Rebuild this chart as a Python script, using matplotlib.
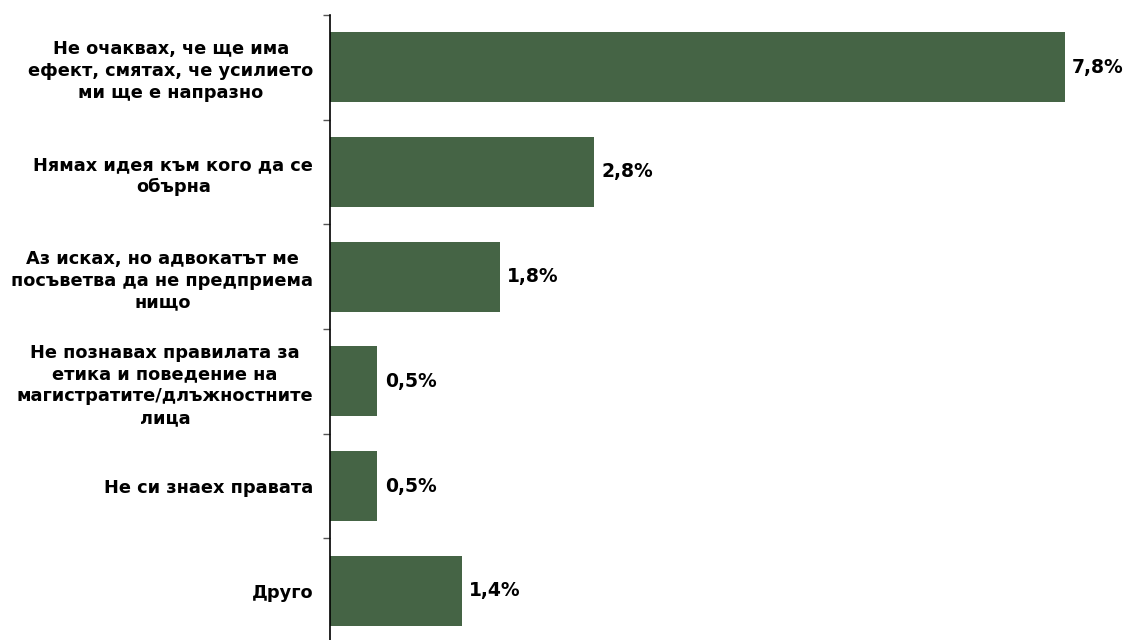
import numpy as np
import matplotlib.pyplot as plt

# Survey answers (top to bottom) and their shares in percent
categories = [
    "Не очаквах, че ще има\nефект, смятах, че усилието\nми ще е напразно",
    "Нямах идея към кого да се\nобърна",
    "Аз исках, но адвокатът ме\nпосъветва да не предприема\nнищо",
    "Не познавах правилата за\nетика и поведение на\nмагистратите/длъжностните\nлица",
    "Не си знаех правата",
    "Друго",
]
values = [7.8, 2.8, 1.8, 0.5, 0.5, 1.4]
value_labels = ["7,8%", "2,8%", "1,8%", "0,5%", "0,5%", "1,4%"]

bar_color = "#456445"

fig = plt.figure(figsize=(11.29, 6.4), dpi=100)
ax = fig.add_axes([0.2923, -0.0047, 0.684, 0.9813])

y = np.arange(len(categories))
ax.barh(y, values, height=0.67, color=bar_color)

ax.set_ylim(len(categories) - 0.5, -0.5)
ax.set_xlim(0, 8.2)

# category labels on major ticks, tick marks on the category boundaries
ax.set_yticks(y)
ax.set_yticklabels(categories, fontsize=12.8, fontweight="bold", ma="center",
                   linespacing=1.27)
ax.tick_params(axis="y", which="major", length=0, pad=12)
ax.set_yticks(np.arange(len(categories) + 1) - 0.5, minor=True)
ax.tick_params(axis="y", which="minor", length=5, width=1, color="#555555")

ax.set_xticks([])
for side in ("top", "right", "bottom"):
    ax.spines[side].set_visible(False)
ax.spines["left"].set_linewidth(1.2)

for yi, v, lab in zip(y, values, value_labels):
    ax.text(v + 0.08, yi, lab, va="center", ha="left",
            fontsize=13.5, fontweight="bold")

fig.savefig("out.png", dpi=100)
